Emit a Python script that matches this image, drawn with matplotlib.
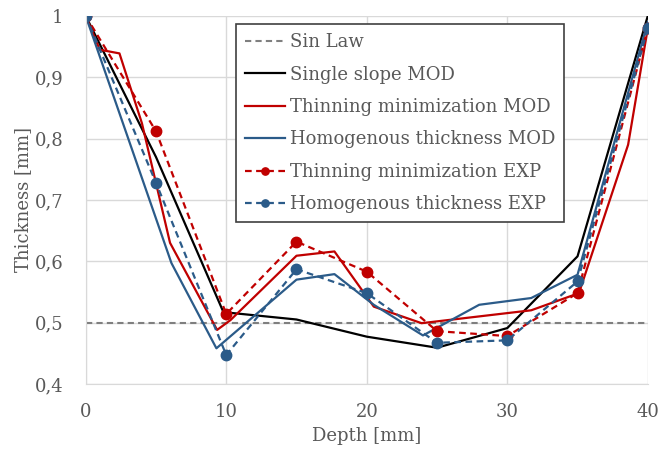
import matplotlib
matplotlib.use("Agg")
import matplotlib.pyplot as plt
from matplotlib.ticker import FuncFormatter

# Data
sin_x = [0, 40]
sin_y = [0.5, 0.5]

single_x = [0, 5, 9.8, 15, 20, 25, 30, 35, 40]
single_y = [1.0, 0.77, 0.517, 0.505, 0.477, 0.459, 0.491, 0.608, 1.0]

thin_mod_x = [0, 1.0, 2.4, 4.0, 6.0, 9.35, 10.3, 15.0, 17.7, 20.5, 23.9, 31.7, 35.1, 38.6, 40]
thin_mod_y = [1.0, 0.945, 0.939, 0.825, 0.63, 0.488, 0.504, 0.609, 0.616, 0.526, 0.499, 0.52, 0.548, 0.79, 0.98]

homo_mod_x = [0, 6.1, 9.3, 15.0, 17.7, 20.5, 24.0, 28.0, 31.7, 35.0, 40]
homo_mod_y = [1.0, 0.597, 0.458, 0.57, 0.579, 0.529, 0.479, 0.529, 0.54, 0.578, 0.99]

exp_x = [0, 5, 10, 15, 20, 25, 30, 35, 40]
thin_exp_y = [1.0, 0.812, 0.514, 0.632, 0.583, 0.486, 0.478, 0.548, 0.98]
homo_exp_y = [1.0, 0.728, 0.447, 0.587, 0.548, 0.467, 0.471, 0.567, 0.98]

x_ticks = [0, 10, 20, 30, 40]
y_ticks = [0.4, 0.5, 0.6, 0.7, 0.8, 0.9, 1.0]

RED = '#C00000'
BLUE = '#2B5B89'
GRAY = '#7F7F7F'
TXT = '#595959'

plt.rcParams['font.family'] = ['DejaVu Serif']

fig = plt.figure(figsize=(6.61, 4.57), dpi=100)
ax = fig.add_axes([0.1297, 0.160, 0.8503, 0.805])

ax.plot(sin_x, sin_y, color=GRAY, lw=1.5, ls=(0, (3, 2)), label='Sin Law')
ax.plot(single_x, single_y, color='black', lw=1.6, label='Single slope MOD')
ax.plot(thin_mod_x, thin_mod_y, color=RED, lw=1.6, label='Thinning minimization MOD')
ax.plot(homo_mod_x, homo_mod_y, color=BLUE, lw=1.6, label='Homogenous thickness MOD')
ax.plot(exp_x, thin_exp_y, color=RED, lw=1.6, ls=(0, (3, 2)), marker='o', ms=7.5,
        label='Thinning minimization EXP')
ax.plot(exp_x, homo_exp_y, color=BLUE, lw=1.6, ls=(0, (3, 2)), marker='o', ms=7.5,
        label='Homogenous thickness EXP')

ax.set_xlim(0, 40)
ax.set_ylim(0.4, 1.0)
ax.set_xticks(x_ticks)
ax.set_yticks(y_ticks)
ax.yaxis.set_major_formatter(FuncFormatter(lambda v, p: ('%g' % round(v, 2)).replace('.', ',')))
ax.grid(True, color='#D9D9D9', lw=1)
ax.set_axisbelow(True)
for s in ['top', 'right']:
    ax.spines[s].set_visible(False)
for s in ['left', 'bottom']:
    ax.spines[s].set_color('#D9D9D9')
ax.tick_params(length=0, labelsize=13, colors=TXT)
ax.tick_params(axis='x', pad=14)
ax.tick_params(axis='y', pad=16)
for lbl in ax.get_xticklabels() + ax.get_yticklabels():
    lbl.set_color(TXT)

ax.set_xlabel('Depth [mm]', fontsize=13, color=TXT, labelpad=4)
ax.set_ylabel('Thickness [mm]', fontsize=13, color=TXT, labelpad=2)

leg = ax.legend(loc='upper left', bbox_to_anchor=(0.267, 0.978), fontsize=13,
                frameon=True, fancybox=False, edgecolor='#404040', framealpha=1,
                handlelength=2.2, handletextpad=0.3, labelspacing=0.8, borderpad=0.5,
                borderaxespad=0, markerscale=0.7)
leg.get_frame().set_linewidth(1.2)
for t in leg.get_texts():
    t.set_color(TXT)

fig.savefig('out.png', dpi=100)
